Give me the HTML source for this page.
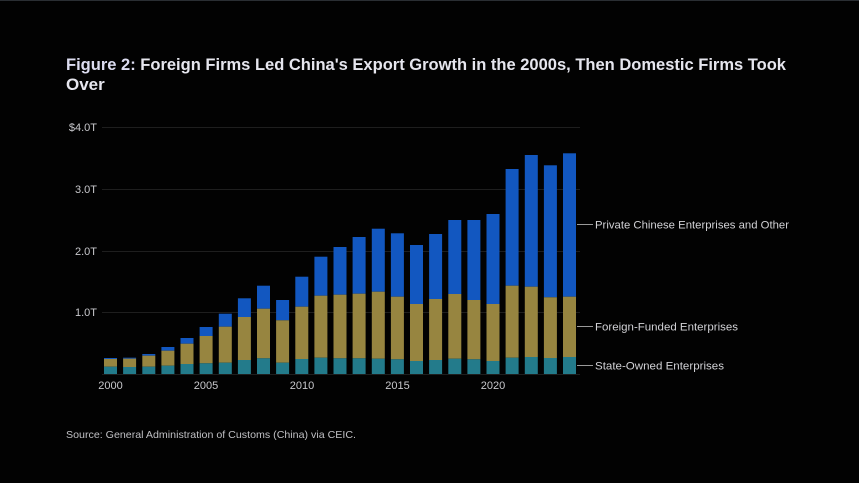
<!DOCTYPE html>
<html><head><meta charset="utf-8"><style>
html,body{margin:0;padding:0;background:#000;}
svg{display:block;}
text{font-family:"Liberation Sans",sans-serif;}
</style></head><body>
<svg width="859" height="483" viewBox="0 0 859 483" xmlns="http://www.w3.org/2000/svg">
<rect x="0" y="0" width="859" height="483" fill="#020202"/>
<rect x="0" y="0" width="859" height="1" fill="#2a2e33"/>
<text x="66" y="70" font-size="17" font-weight="bold" fill="#e6e6ee" textLength="720" lengthAdjust="spacingAndGlyphs"><tspan fill="#dcdcf0">Figure 2:</tspan> Foreign Firms Led China's Export Growth in the 2000s, Then Domestic Firms Took</text>
<text x="66" y="90" font-size="17" font-weight="bold" fill="#e6e6ee">Over</text>
<g stroke="#1e1e1e" stroke-width="1">
<line x1="102" y1="127.5" x2="580" y2="127.5"/>
<line x1="102" y1="189.5" x2="580" y2="189.5"/>
<line x1="102" y1="251.5" x2="580" y2="251.5"/>
<line x1="102" y1="312.5" x2="580" y2="312.5"/>
<line x1="102" y1="374.5" x2="580" y2="374.5"/>
</g>
<g font-size="11" fill="#c8c8cc" text-anchor="end">
<text x="97" y="131">$4.0T</text>
<text x="97" y="193">3.0T</text>
<text x="97" y="255">2.0T</text>
<text x="97" y="316">1.0T</text>
</g>
<g font-size="11" fill="#c8c8cc" text-anchor="middle">
<text x="110.5" y="389">2000</text>
<text x="206" y="389">2005</text>
<text x="302" y="389">2010</text>
<text x="397.5" y="389">2015</text>
<text x="493" y="389">2020</text>
</g>
<g id="bars">
<!-- x, total, ffe, soe -->
<rect x="104" y="358" width="13" height="1" fill="#1257c0"/><rect x="104" y="359" width="13" height="7.7" fill="#978540"/><rect x="104" y="366.7" width="13" height="7.3" fill="#237b8b"/>
<rect x="123.1" y="357.7" width="13" height="1" fill="#1257c0"/><rect x="123.1" y="358.7" width="13" height="8.3" fill="#978540"/><rect x="123.1" y="367" width="13" height="7" fill="#237b8b"/>
<rect x="142.3" y="354" width="13" height="1.7" fill="#1257c0"/><rect x="142.3" y="355.7" width="13" height="11" fill="#978540"/><rect x="142.3" y="366.7" width="13" height="7.3" fill="#237b8b"/>
<rect x="161.4" y="347" width="13" height="3.7" fill="#1257c0"/><rect x="161.4" y="350.7" width="13" height="15" fill="#978540"/><rect x="161.4" y="365.7" width="13" height="8.3" fill="#237b8b"/>
<rect x="180.5" y="338" width="13" height="5.7" fill="#1257c0"/><rect x="180.5" y="343.7" width="13" height="20.3" fill="#978540"/><rect x="180.5" y="364" width="13" height="10" fill="#237b8b"/>
<rect x="199.6" y="327" width="13" height="9" fill="#1257c0"/><rect x="199.6" y="336" width="13" height="27.3" fill="#978540"/><rect x="199.6" y="363.3" width="13" height="10.7" fill="#237b8b"/>
<rect x="218.8" y="313.7" width="13" height="13" fill="#1257c0"/><rect x="218.8" y="326.7" width="13" height="36" fill="#978540"/><rect x="218.8" y="362.7" width="13" height="11.3" fill="#237b8b"/>
<rect x="237.9" y="298.3" width="13" height="18.7" fill="#1257c0"/><rect x="237.9" y="317" width="13" height="43" fill="#978540"/><rect x="237.9" y="360" width="13" height="14" fill="#237b8b"/>
<rect x="257" y="285.7" width="13" height="23" fill="#1257c0"/><rect x="257" y="308.7" width="13" height="49.6" fill="#978540"/><rect x="257" y="358.3" width="13" height="15.7" fill="#237b8b"/>
<rect x="276.1" y="300" width="13" height="20.3" fill="#1257c0"/><rect x="276.1" y="320.3" width="13" height="42.4" fill="#978540"/><rect x="276.1" y="362.7" width="13" height="11.3" fill="#237b8b"/>
<rect x="295.3" y="276.7" width="13" height="30" fill="#1257c0"/><rect x="295.3" y="306.7" width="13" height="52.3" fill="#978540"/><rect x="295.3" y="359" width="13" height="15" fill="#237b8b"/>
<rect x="314.4" y="256.7" width="13" height="39" fill="#1257c0"/><rect x="314.4" y="295.7" width="13" height="62" fill="#978540"/><rect x="314.4" y="357.7" width="13" height="16.3" fill="#237b8b"/>
<rect x="333.5" y="247" width="13" height="47.7" fill="#1257c0"/><rect x="333.5" y="294.7" width="13" height="63.6" fill="#978540"/><rect x="333.5" y="358.3" width="13" height="15.7" fill="#237b8b"/>
<rect x="352.6" y="237" width="13" height="56.7" fill="#1257c0"/><rect x="352.6" y="293.7" width="13" height="64.6" fill="#978540"/><rect x="352.6" y="358.3" width="13" height="15.7" fill="#237b8b"/>
<rect x="371.8" y="228.7" width="13" height="63" fill="#1257c0"/><rect x="371.8" y="291.7" width="13" height="67" fill="#978540"/><rect x="371.8" y="358.7" width="13" height="15.3" fill="#237b8b"/>
<rect x="390.9" y="233.3" width="13" height="63.4" fill="#1257c0"/><rect x="390.9" y="296.7" width="13" height="62.6" fill="#978540"/><rect x="390.9" y="359.3" width="13" height="14.7" fill="#237b8b"/>
<rect x="410" y="245" width="13" height="59" fill="#1257c0"/><rect x="410" y="304" width="13" height="57" fill="#978540"/><rect x="410" y="361" width="13" height="13" fill="#237b8b"/>
<rect x="429.1" y="234" width="13" height="65" fill="#1257c0"/><rect x="429.1" y="299" width="13" height="61" fill="#978540"/><rect x="429.1" y="360" width="13" height="14" fill="#237b8b"/>
<rect x="448.3" y="220" width="13" height="74" fill="#1257c0"/><rect x="448.3" y="294" width="13" height="64.7" fill="#978540"/><rect x="448.3" y="358.7" width="13" height="15.3" fill="#237b8b"/>
<rect x="467.4" y="220" width="13" height="80" fill="#1257c0"/><rect x="467.4" y="300" width="13" height="59.3" fill="#978540"/><rect x="467.4" y="359.3" width="13" height="14.7" fill="#237b8b"/>
<rect x="486.5" y="214" width="13" height="90" fill="#1257c0"/><rect x="486.5" y="304" width="13" height="57" fill="#978540"/><rect x="486.5" y="361" width="13" height="13" fill="#237b8b"/>
<rect x="505.6" y="169" width="13" height="116.7" fill="#1257c0"/><rect x="505.6" y="285.7" width="13" height="72" fill="#978540"/><rect x="505.6" y="357.7" width="13" height="16.3" fill="#237b8b"/>
<rect x="524.8" y="155" width="13" height="131.7" fill="#1257c0"/><rect x="524.8" y="286.7" width="13" height="70.3" fill="#978540"/><rect x="524.8" y="357" width="13" height="17" fill="#237b8b"/>
<rect x="543.9" y="165.3" width="13" height="132" fill="#1257c0"/><rect x="543.9" y="297.3" width="13" height="60.7" fill="#978540"/><rect x="543.9" y="358" width="13" height="16" fill="#237b8b"/>
<rect x="563" y="153.3" width="13" height="143.4" fill="#1257c0"/><rect x="563" y="296.7" width="13" height="60.3" fill="#978540"/><rect x="563" y="357" width="13" height="17" fill="#237b8b"/>
</g>
<g stroke="#9a9a9a" stroke-width="1">
<line x1="577" y1="224.5" x2="593" y2="224.5"/>
<line x1="577" y1="326.5" x2="593" y2="326.5"/>
<line x1="577" y1="365.5" x2="593" y2="365.5"/>
</g>
<g font-size="11" fill="#d2d2d6">
<text x="595" y="228.5" textLength="194" lengthAdjust="spacingAndGlyphs">Private Chinese Enterprises and Other</text>
<text x="595" y="330.5" textLength="143" lengthAdjust="spacingAndGlyphs">Foreign-Funded Enterprises</text>
<text x="595" y="369.5" textLength="129" lengthAdjust="spacingAndGlyphs">State-Owned Enterprises</text>
</g>
<text x="66" y="438" font-size="10.5" fill="#c0c0c4" textLength="290" lengthAdjust="spacingAndGlyphs">Source: General Administration of Customs (China) via CEIC.</text>
</svg>
</body></html>
